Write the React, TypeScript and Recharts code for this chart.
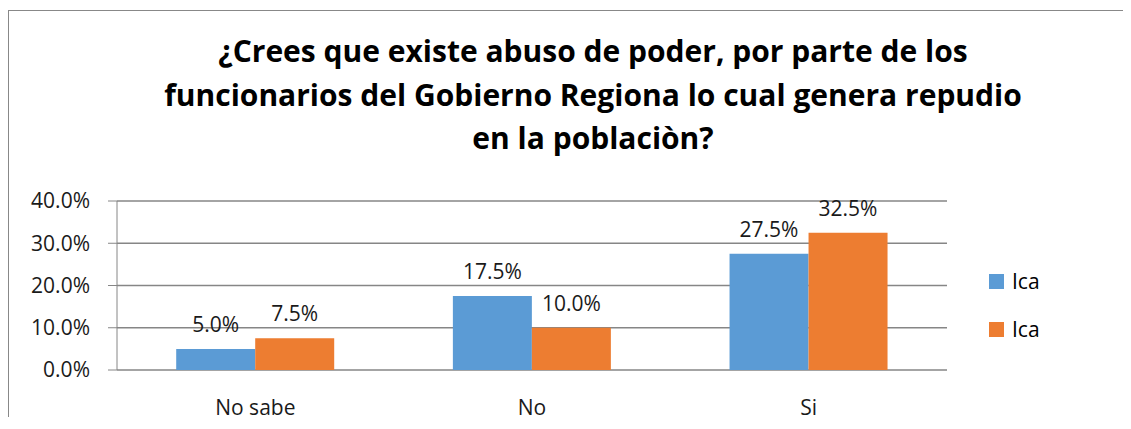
import React from "react";
import {
  BarChart,
  Bar,
  XAxis,
  YAxis,
  CartesianGrid,
  LabelList,
} from "recharts";

const categories = ["No sabe", "No", "Si"];
const serie1 = [0.05, 0.175, 0.275];
const serie2 = [0.075, 0.1, 0.325];
const seriesNames = ["Ica", "Ica"];
const yTicks = [0, 0.1, 0.2, 0.3, 0.4];
const titleLines = [
  "¿Crees que existe abuso de poder, por parte de los",
  "funcionarios del Gobierno Regiona lo cual genera repudio",
  "en la poblaciòn?",
];

const COLORS = ["#5B9BD5", "#ED7D31"];
const FONT = "'Open Sans', Lato, sans-serif";

const data = categories.map((name, i) => ({
  name,
  a: serie1[i],
  b: serie2[i],
}));

const pct = (v: number) => `${(v * 100).toFixed(1)}%`;

const labelStyle = { fill: "#1a1a1a", fontSize: 21, fontFamily: FONT };

export default function App() {
  return (
    <div
      style={{
        position: "relative",
        overflow: "hidden",
        marginTop: 2,
        marginBottom: -8,
        width: 1122,
        height: 414,
        borderTop: "1px solid #888",
        borderLeft: "1px solid #888",
        fontFamily: FONT,
      }}
    >
      <div
        style={{
          position: "absolute",
          left: 84,
          top: 18,
          width: 1000,
          textAlign: "center",
          fontWeight: 700,
          fontSize: 30,
          lineHeight: "43.5px",
          color: "#000",
          whiteSpace: "nowrap",
        }}
      >
        {titleLines.map((l, i) => (
          <div key={i}>{l}</div>
        ))}
      </div>

      {/* legend */}
      <div
        style={{
          position: "absolute",
          left: 980,
          top: 246,
          fontSize: 21,
          color: "#000",
        }}
      >
        {seriesNames.map((n, i) => (
          <div
            key={i}
            style={{ display: "flex", alignItems: "center", height: 48 }}
          >
            <span
              style={{
                width: 15,
                height: 15,
                background: COLORS[i],
                display: "inline-block",
                marginRight: 8,
              }}
            />
            <span>{n}</span>
          </div>
        ))}
      </div>

      <BarChart
        width={1122}
        height={414}
        data={data}
        margin={{ top: 190, right: 184, bottom: 0, left: 0 }}
        barCategoryGap="21.4%"
        barGap={0}
      >
        <CartesianGrid
          xAxisId="cat"
          vertical={false}
          stroke="#868686"
          strokeWidth={1.3}
        />
        <XAxis
          xAxisId="edge"
          type="number"
          domain={[0, categories.length]}
          ticks={[0, 1, 2, 3]}
          height={0}
          tick={false}
          tickSize={8}
          axisLine={{ stroke: "#868686" }}
          tickLine={{ stroke: "#868686" }}
        />
        <XAxis
          xAxisId="cat"
          dataKey="name"
          height={55}
          axisLine={false}
          tickLine={false}
          tickSize={0}
          tickMargin={30}
          tick={labelStyle}
        />
        <YAxis
          width={108}
          domain={[0, 0.4]}
          ticks={yTicks}
          interval={0}
          tickFormatter={pct}
          tickSize={9}
          tickMargin={18}
          axisLine={{ stroke: "#868686" }}
          tickLine={{ stroke: "#868686" }}
          tick={labelStyle}
        />
        <Bar
          xAxisId="cat"
          dataKey="a"
          name={seriesNames[0]}
          fill={COLORS[0]}
          isAnimationActive={false}
        >
          <LabelList
            dataKey="a"
            position="top"
            offset={17}
            formatter={(v: any) => pct(Number(v))}
            style={labelStyle}
          />
        </Bar>
        <Bar
          xAxisId="cat"
          dataKey="b"
          name={seriesNames[1]}
          fill={COLORS[1]}
          isAnimationActive={false}
        >
          <LabelList
            dataKey="b"
            position="top"
            offset={17}
            formatter={(v: any) => pct(Number(v))}
            style={labelStyle}
          />
        </Bar>
      </BarChart>
    </div>
  );
}
